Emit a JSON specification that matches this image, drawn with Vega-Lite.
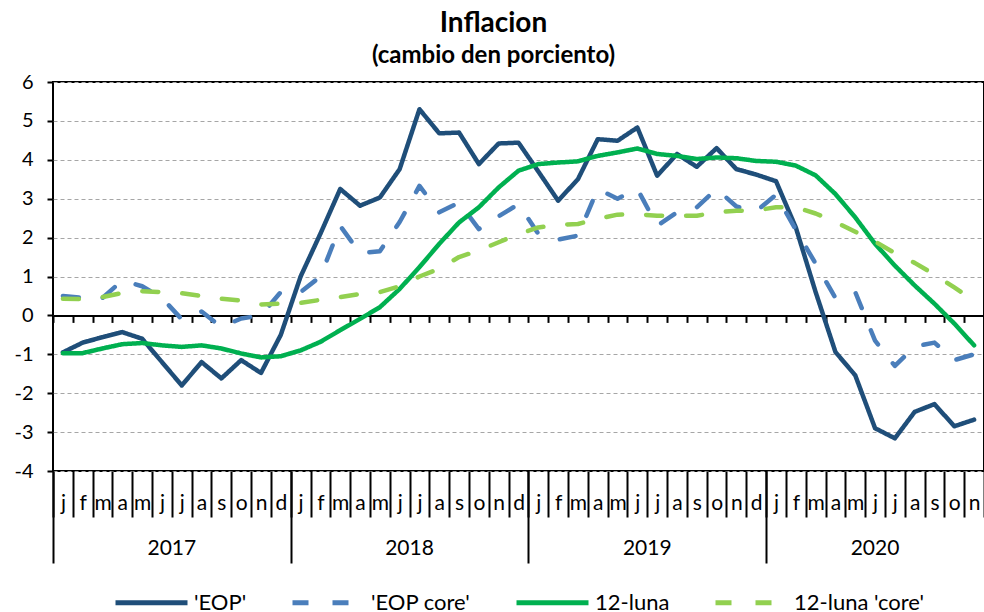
{
  "$schema": "https://vega.github.io/schema/vega-lite/v6.json",
  "width": 931,
  "height": 389,
  "autosize": {"type": "none"},
  "padding": {"left": 53, "top": 82, "right": 0, "bottom": 141},
  "background": "white",
  "title": {
    "text": "Inflacion",
    "subtitle": "(cambio den porciento)",
    "anchor": "middle",
    "frame": "group",
    "dx": -25,
    "offset": 4,
    "subtitlePadding": 6,
    "font": "Lato",
    "subtitleFont": "Lato",
    "fontSize": 28,
    "subtitleFontSize": 24,
    "fontWeight": "bold",
    "subtitleFontWeight": "bold",
    "color": "black",
    "subtitleColor": "black"
  },
  "config": {
    "view": {"stroke": "black", "strokeWidth": 2},
    "axis": {"labelFont": "Lato", "labelColor": "black", "labelFontSize": 20, "labelAngle": 0, "labelOverlap": false},
    "axisY": {"grid": true, "gridColor": "#a6a6a6", "gridDash": [4, 3], "gridWidth": 1, "domain": false, "tickSize": 6, "tickWidth": 2, "tickColor": "black", "labelPadding": 14},
    "legend": {
      "orient": "none",
      "direction": "horizontal",
      "symbolType": "stroke",
      "symbolSize": 5184,
      "symbolStrokeWidth": 5,
      "labelFont": "Lato",
      "labelFontSize": 22,
      "labelColor": "black",
      "columnPadding": 35,
      "labelOffset": 4,
      "padding": 0
    }
  },
  "datasets": {
    "wide": [
      {"m": "2017-01", "e": -0.95, "c": 0.5, "l": -0.97, "k": 0.43},
      {"m": "2017-02", "e": -0.7, "c": 0.45, "l": -0.97, "k": 0.42},
      {"m": "2017-03", "e": -0.56, "c": 0.45, "l": -0.85, "k": 0.47},
      {"m": "2017-04", "e": -0.43, "c": 0.9, "l": -0.74, "k": 0.58},
      {"m": "2017-05", "e": -0.6, "c": 0.75, "l": -0.71, "k": 0.62},
      {"m": "2017-06", "e": -1.2, "c": 0.45, "l": -0.77, "k": 0.6},
      {"m": "2017-07", "e": -1.8, "c": -0.1, "l": -0.81, "k": 0.57},
      {"m": "2017-08", "e": -1.2, "c": 0.1, "l": -0.77, "k": 0.5},
      {"m": "2017-09", "e": -1.62, "c": -0.3, "l": -0.85, "k": 0.43},
      {"m": "2017-10", "e": -1.15, "c": -0.08, "l": -0.98, "k": 0.38},
      {"m": "2017-11", "e": -1.48, "c": 0.0, "l": -1.08, "k": 0.28},
      {"m": "2017-12", "e": -0.5, "c": 0.6, "l": -1.05, "k": 0.3},
      {"m": "2018-01", "e": 1.0, "c": 0.6, "l": -0.9, "k": 0.32},
      {"m": "2018-02", "e": 2.1, "c": 1.0, "l": -0.68, "k": 0.4},
      {"m": "2018-03", "e": 3.25, "c": 2.3, "l": -0.38, "k": 0.47},
      {"m": "2018-04", "e": 2.82, "c": 1.6, "l": -0.09, "k": 0.55},
      {"m": "2018-05", "e": 3.03, "c": 1.65, "l": 0.21, "k": 0.6},
      {"m": "2018-06", "e": 3.76, "c": 2.4, "l": 0.68, "k": 0.75},
      {"m": "2018-07", "e": 5.3, "c": 3.33, "l": 1.24, "k": 1.0},
      {"m": "2018-08", "e": 4.68, "c": 2.65, "l": 1.84, "k": 1.2},
      {"m": "2018-09", "e": 4.7, "c": 2.9, "l": 2.39, "k": 1.5},
      {"m": "2018-10", "e": 3.89, "c": 2.22, "l": 2.78, "k": 1.67},
      {"m": "2018-11", "e": 4.42, "c": 2.55, "l": 3.29, "k": 1.88},
      {"m": "2018-12", "e": 4.44, "c": 2.86, "l": 3.72, "k": 2.09},
      {"m": "2019-01", "e": 3.7, "c": 2.1, "l": 3.89, "k": 2.26},
      {"m": "2019-02", "e": 2.95, "c": 1.95, "l": 3.93, "k": 2.33},
      {"m": "2019-03", "e": 3.5, "c": 2.05, "l": 3.96, "k": 2.35},
      {"m": "2019-04", "e": 4.53, "c": 3.25, "l": 4.1, "k": 2.48},
      {"m": "2019-05", "e": 4.49, "c": 3.0, "l": 4.19, "k": 2.59},
      {"m": "2019-06", "e": 4.83, "c": 3.25, "l": 4.29, "k": 2.6},
      {"m": "2019-07", "e": 3.59, "c": 2.3, "l": 4.15, "k": 2.56},
      {"m": "2019-08", "e": 4.15, "c": 2.65, "l": 4.1, "k": 2.56},
      {"m": "2019-09", "e": 3.82, "c": 2.78, "l": 4.02, "k": 2.56},
      {"m": "2019-10", "e": 4.3, "c": 3.25, "l": 4.06, "k": 2.65},
      {"m": "2019-11", "e": 3.76, "c": 2.8, "l": 4.04, "k": 2.69},
      {"m": "2019-12", "e": 3.62, "c": 2.68, "l": 3.97, "k": 2.7},
      {"m": "2020-01", "e": 3.45, "c": 3.1, "l": 3.95, "k": 2.78},
      {"m": "2020-02", "e": 2.26, "c": 2.2, "l": 3.85, "k": 2.78},
      {"m": "2020-03", "e": 0.6, "c": 1.33, "l": 3.6, "k": 2.62},
      {"m": "2020-04", "e": -0.94, "c": 0.45, "l": 3.12, "k": 2.4},
      {"m": "2020-05", "e": -1.54, "c": 0.6, "l": 2.52, "k": 2.15},
      {"m": "2020-06", "e": -2.9, "c": -0.65, "l": 1.84, "k": 1.9},
      {"m": "2020-07", "e": -3.16, "c": -1.3, "l": 1.28, "k": 1.6},
      {"m": "2020-08", "e": -2.48, "c": -0.8, "l": 0.77, "k": 1.35},
      {"m": "2020-09", "e": -2.28, "c": -0.7, "l": 0.3, "k": 1.05},
      {"m": "2020-10", "e": -2.85, "c": -1.15, "l": -0.21, "k": 0.72},
      {"m": "2020-11", "e": -2.68, "c": -1.0, "l": -0.77, "k": 0.38}
    ]
  },
  "data": {"name": "wide"},
  "transform": [
    {"fold": ["e", "c", "l", "k"], "as": ["key", "v"]},
    {"lookup": "key", "from": {"data": {"values": [
      {"key": "e", "s": "'EOP'"},
      {"key": "c", "s": "'EOP core'"},
      {"key": "l", "s": "12-luna"},
      {"key": "k", "s": "12-luna 'core'"}
    ]}, "key": "key", "fields": ["s"]}}
  ],
  "encoding": {
    "y": {"field": "v", "type": "quantitative", "title": null,
      "scale": {"domain": [-4, 6], "nice": false, "zero": false},
      "axis": {"title": null, "values": [-4, -3, -2, -1, 0, 1, 2, 3, 4, 5, 6], "labelExpr": "'' + datum.value", "grid": true, "gridColor": "#a6a6a6", "gridDash": [4, 3], "zindex": 0}
    },
    "color": {
      "field": "s", "type": "nominal", "title": null,
      "scale": {"domain": ["'EOP'", "'EOP core'", "12-luna", "12-luna 'core'"], "range": ["#1f4e79", "#4a7ebb", "#00b050", "#92d050"]},
      "legend": {"orient": "none", "legendX": 60, "legendY": 482, "direction": "horizontal"}
    },
    "strokeDash": {
      "field": "s", "type": "nominal", "title": null,
      "scale": {"domain": ["'EOP'", "'EOP core'", "12-luna", "12-luna 'core'"], "range": [[1, 0], [16, 24], [1, 0], [16, 24]]},
      "legend": {"orient": "none", "legendX": 60, "legendY": 482, "direction": "horizontal"}
    }
  },
  "resolve": {"axis": {"x": "independent"}},
  "layer": [
    {
      "transform": [{"filter": {"field": "key", "equal": "e"}}],
      "mark": {"type": "line", "strokeWidth": 4.5, "strokeCap": "round", "strokeJoin": "round"},
      "encoding": {
        "x": {
          "field": "m", "type": "ordinal", "title": null,
          "scale": {"type": "band", "paddingInner": 0, "paddingOuter": 0},
          "axis": {
            "orient": "bottom", "title": null, "domain": false, "grid": false,
            "ticks": true, "tickBand": "extent", "tickSize": 46, "tickWidth": 2, "tickColor": "black",
            "labelExpr": "isString(datum.value) ? substring('jfmamjjasond', toNumber(substring(datum.value, 5, 7)) - 1, toNumber(substring(datum.value, 5, 7))) : ''",
            "labelBaseline": "middle", "labelPadding": -14, "labelFontSize": 21
          }
        }
      }
    },
    {
      "transform": [{"filter": {"field": "key", "equal": "c"}}],
      "mark": {"type": "line", "strokeWidth": 4.5, "strokeCap": "round", "strokeJoin": "round"},
      "encoding": {
        "x": {
          "field": "m", "type": "ordinal", "title": null,
          "scale": {"type": "band", "paddingInner": 0, "paddingOuter": 0},
          "axis": {
            "orient": "bottom", "title": null, "domain": false, "grid": false,
            "ticks": true, "tickBand": "extent", "tickSize": 92, "tickWidth": 2, "tickColor": "black",
            "tickOpacity": {"condition": {"test": "!isString(datum.value) || substring(datum.value, 5, 7) == '12'", "value": 1}, "value": 0},
            "labels": false
          }
        }
      }
    },
    {
      "transform": [{"filter": {"field": "key", "equal": "l"}}],
      "mark": {"type": "line", "strokeWidth": 4.5, "strokeCap": "round", "strokeJoin": "round"},
      "encoding": {
        "x": {
          "field": "m", "type": "ordinal", "title": null,
          "scale": {"type": "band", "paddingInner": 0, "paddingOuter": 0},
          "axis": {
            "orient": "bottom", "title": null, "domain": false, "grid": false,
            "ticks": false, "tickSize": 0,
            "labelExpr": "isString(datum.value) && substring(datum.value, 5, 7) == '06' ? substring(datum.value, 0, 4) : ''",
            "labelOffset": {"condition": {"test": "datum.value == '2020-06'", "value": 0}, "value": 9.9},
            "labelBaseline": "middle", "labelPadding": 77, "labelFontSize": 21
          }
        }
      }
    },
    {
      "transform": [{"filter": {"field": "key", "equal": "k"}}],
      "mark": {"type": "line", "strokeWidth": 4.5, "strokeCap": "round", "strokeJoin": "round"},
      "encoding": {
        "x": {
          "field": "m", "type": "ordinal", "title": null,
          "scale": {"type": "band", "paddingInner": 0, "paddingOuter": 0},
          "axis": {
            "orient": "bottom", "title": null, "grid": false, "offset": -155.6,
            "domain": true, "domainColor": "black", "domainWidth": 2,
            "ticks": true, "tickBand": "extent", "tickSize": 7, "tickWidth": 2, "tickColor": "black",
            "labels": false, "zindex": 0
          }
        }
      }
    }
  ]
}
